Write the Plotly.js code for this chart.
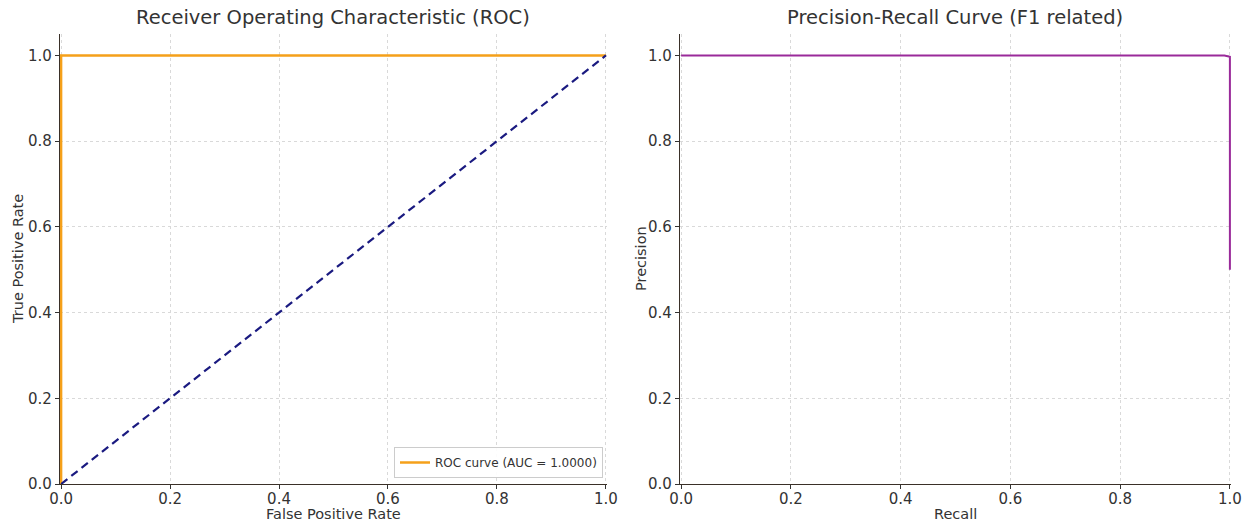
<!DOCTYPE html>
<html>
<head>
<meta charset="utf-8">
<script src="https://cdn.plot.ly/plotly-3.0.1.min.js"></script>
<style>html,body{margin:0;padding:0;background:#fff;}#chart{width:1255px;height:528px;}</style>
</head>
<body>
<div id="chart"></div>
<script>
// ROC data
const rocFpr = [0.0, 0.0, 1.0];
const rocTpr = [0.0, 1.0, 1.0];
const chanceX = [0.0, 1.0];
const chanceY = [0.0, 1.0];
const rocLabel = 'ROC curve (AUC = 1.0000)';
// Precision-Recall data
const prRecall = [0.0, 0.99, 1.0, 1.0];
const prPrecision = [1.0, 1.0, 0.997, 0.5];
// Tick labels
const tickVals = [0.0, 0.2, 0.4, 0.6, 0.8, 1.0];
const tickText = ['0.0', '0.2', '0.4', '0.6', '0.8', '1.0'];

const W = 1255, H = 528;
const px = v => v / W;
const py = v => (H - v) / H;

const font = {family: 'DejaVu Sans, sans-serif', color: '#333333'};

function axisBase(domain, range) {
  return {
    domain: domain,
    range: range,
    tickmode: 'array',
    tickvals: tickVals,
    ticktext: tickText,
    ticks: 'outside',
    ticklen: 4,
    tickwidth: 1,
    tickcolor: '#333',
    showline: true,
    linecolor: '#3a3028',
    linewidth: 1.2,
    showgrid: true,
    gridcolor: '#d9d9d9',
    gridwidth: 1,
    griddash: '3px,3px',
    zeroline: false,
    layer: 'above traces',
    tickfont: {family: font.family, size: 15, color: '#333'},
    fixedrange: true
  };
}

const traces = [
  {
    x: rocFpr, y: rocTpr, type: 'scatter', mode: 'lines',
    name: rocLabel, line: {color: '#f5a01a', width: 2.5},
    xaxis: 'x', yaxis: 'y', showlegend: true
  },
  {
    x: chanceX, y: chanceY, type: 'scatter', mode: 'lines',
    line: {color: '#1a1a80', width: 2.2, dash: '8px,5px'},
    xaxis: 'x', yaxis: 'y', showlegend: false
  },
  {
    x: prRecall, y: prPrecision, type: 'scatter', mode: 'lines',
    line: {color: '#9a2a9a', width: 2},
    xaxis: 'x2', yaxis: 'y2', showlegend: false
  }
];

const xa1 = axisBase([px(60), px(607)], [-0.002, 1.002]);
const ya1 = axisBase([py(484), py(34)], [0, 1.05]);
const xa2 = axisBase([px(680), px(1231)], [-0.002, 1.002]);
const ya2 = axisBase([py(484), py(34)], [0, 1.05]);
xa1.anchor = 'y'; ya1.anchor = 'x';
xa2.anchor = 'y2'; ya2.anchor = 'x2';
xa1.ticklabelstandoff = -3; xa2.ticklabelstandoff = -3;

const ann = (text, x, y, size, angle) => ({
  text: text, x: x, y: y, xref: 'paper', yref: 'paper',
  xanchor: 'center', yanchor: 'middle', showarrow: false,
  textangle: angle || 0,
  font: {family: font.family, size: size, color: '#333'}
});

const layout = {
  width: W, height: H,
  margin: {l: 0, r: 0, t: 0, b: 0},
  paper_bgcolor: '#ffffff',
  plot_bgcolor: '#ffffff',
  xaxis: xa1, yaxis: ya1, xaxis2: xa2, yaxis2: ya2,
  showlegend: true,
  legend: {
    x: px(603), y: py(478), xanchor: 'right', yanchor: 'bottom',
    bgcolor: 'rgba(255,255,255,0.9)', bordercolor: '#cccccc', borderwidth: 1,
    font: {family: font.family, size: 12, color: '#333'},
    itemwidth: 30
  },
  annotations: [
    ann('Receiver Operating Characteristic (ROC)', px(333), py(18), 19.5),
    ann('Precision-Recall Curve (F1 related)', px(955), py(18), 19.5),
    ann('False Positive Rate', px(333), py(514), 14.5),
    ann('Recall', px(955), py(514), 14.5),
    ann('True Positive Rate', px(18), py(259), 14.5, -90),
    ann('Precision', px(641), py(259), 14.5, -90)
  ]
};

Plotly.newPlot('chart', traces, layout, {displayModeBar: false, staticPlot: true});
</script>
</body>
</html>
